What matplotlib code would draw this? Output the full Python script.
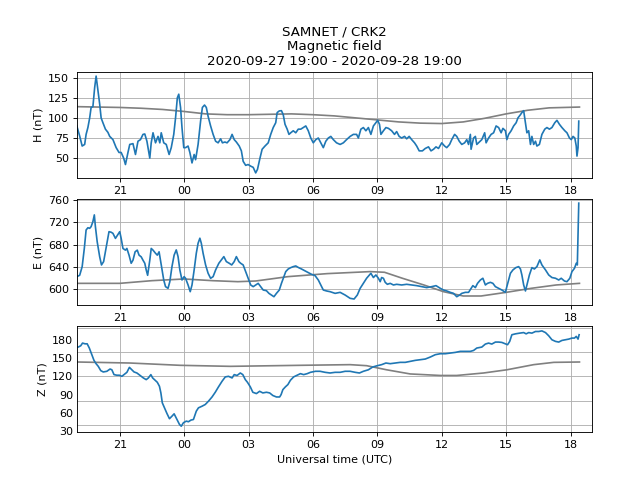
import numpy as np
import pandas as pd
import matplotlib
matplotlib.use("Agg")
import matplotlib.pyplot as plt
import matplotlib.dates as mdates

# ---- data: minutes after 2020-09-27 19:00 UTC, values in nT ----
H_min = [0, 8, 15, 22, 26, 31, 36, 40, 45, 50, 54, 59, 64, 68, 73, 80, 87, 92, 101, 110, 118, 124, 131, 136,
         143, 148, 157, 164, 171, 178, 185, 190, 196, 204, 208, 213, 220, 227, 232, 236, 243, 250, 258, 264,
         271, 276, 281, 285, 290, 294, 299, 304, 311, 316, 322, 328, 332, 339, 346, 351, 357, 362, 367, 374,
         381, 388, 395, 402, 407, 414, 420, 428, 434, 440, 446, 454, 460, 465, 472, 479, 486, 493, 500, 505,
         512, 518, 526, 535, 542, 549, 556, 560, 566, 572, 577, 582, 588, 593, 598, 605, 612, 619, 626, 633,
         640, 647, 654, 661, 668, 675, 682, 689, 696, 703, 710, 717, 726, 736, 745, 754, 764, 773, 782, 787,
         794, 801, 808, 815, 822, 829, 836, 841, 846, 850, 857, 864, 871, 880, 888, 894, 901, 908, 916, 922,
         929, 936, 944, 950, 957, 966, 974, 983, 990, 997, 1004, 1011, 1020, 1028, 1034, 1042, 1048, 1056,
         1062, 1069, 1076, 1084, 1090, 1095, 1100, 1102, 1109, 1114, 1118, 1125, 1132, 1140, 1144, 1151,
         1158, 1165, 1172, 1179, 1186, 1191, 1198, 1202, 1207, 1214, 1221, 1228, 1233, 1240, 1244, 1249,
         1254, 1258, 1263, 1268, 1272, 1277, 1282, 1286, 1293, 1300, 1308, 1314, 1321, 1328, 1336, 1342,
         1349, 1356, 1364, 1370, 1377, 1382, 1387, 1392, 1396, 1398, 1401, 1403]
H_val = [90, 77.5, 65, 67, 79.5, 88, 100, 113, 114, 138, 152, 134, 117, 100, 94, 86, 82, 77, 73, 63, 57, 57, 50, 42,
         57, 67, 68, 54.5, 71, 73, 79.5, 80, 71, 50, 69, 81.5, 69, 77, 69, 81.5, 69, 67, 54.5, 63,
         79.5, 100, 125, 129.5, 113, 88, 63, 63, 65, 57, 44, 54.5, 48, 67, 96, 113, 116, 113, 102, 90,
         79.5, 71, 69, 74, 69, 70, 69, 73, 79.5, 73, 70, 65, 59, 46, 41, 42, 40, 38.5, 31.6, 36,
         50, 61, 65, 69, 79.5, 88, 94, 106.6, 108.7, 109, 104, 92, 86, 79.5, 81.5, 84, 81.5, 86, 86, 88,
         90, 84, 75, 69, 73, 75, 69, 63, 71, 75, 77, 73, 69, 67, 69, 73, 77, 79.5, 79.5, 75,
         86, 88, 84, 88, 79.5, 90, 94, 97, 92, 79.5, 84, 88, 87, 84, 79.5, 83, 77, 75, 77, 74,
         77, 73, 69, 65, 59, 59, 62, 64, 59, 61, 64, 62, 69, 65, 63, 67, 73, 79.5,
         77, 71, 67, 69, 73, 67, 79.5, 61, 75, 77, 67, 70, 73, 81.5, 69, 75,
         79.5, 81.5, 90, 88, 81.5, 87, 84, 73, 79.5, 84, 90, 94, 100, 104, 106.6, 109,
         94, 81.5, 84, 67, 77, 67, 71, 65, 67, 79.5, 86, 88, 86, 88, 94, 97,
         92, 88, 84, 81.5, 75, 73, 77, 75, 65, 52.5, 63, 96]

E_min = [0, 8, 15, 21, 26, 31, 36, 40, 45, 49, 52, 57, 64, 69, 75, 80, 85, 90, 96, 101, 108, 113, 120, 124,
         129, 136, 140, 146, 152, 157, 163, 169, 174, 180, 185, 190, 194, 198, 204, 208, 213, 220, 225, 230,
         236, 243, 248, 255, 260, 266, 272, 278, 283, 288, 294, 300, 304, 311, 317, 322, 328, 334, 339, 344,
         348, 353, 360, 367, 374, 381, 388, 397, 404, 411, 418, 426, 433, 440, 446, 453, 458, 465, 472, 479,
         486, 493, 500, 507, 514, 521, 530, 537, 544, 551, 558, 566, 572, 579, 584, 591, 598, 605, 612, 620,
         628, 638, 647, 656, 666, 675, 682, 689, 698, 708, 722, 736, 750, 764, 775, 784, 792, 801, 810, 818,
         822, 829, 836, 843, 848, 852, 857, 862, 868, 876, 885, 894, 908, 922, 936, 950, 964, 978, 992, 1004,
         1016, 1025, 1034, 1044, 1053, 1062, 1070, 1076, 1086, 1095, 1102, 1107, 1114, 1120, 1128, 1135, 1142,
         1148, 1156, 1163, 1170, 1179, 1188, 1198, 1202, 1207, 1212, 1219, 1227, 1235, 1240, 1244, 1249, 1254,
         1258, 1265, 1272, 1279, 1286, 1294, 1300, 1310, 1319, 1328, 1338, 1347, 1354, 1363, 1370, 1378, 1384,
         1391, 1396, 1399, 1403]
E_val = [622.6, 625, 640.5, 673, 706, 710, 709, 712, 721, 733, 712, 685, 658, 643.5, 649.5, 667, 685, 703, 702, 700,
         691, 696, 703, 691, 673, 670, 673, 661, 646.5, 652, 667, 670, 661, 658, 652, 646.5, 634.6, 625, 652, 673,
         670, 664.4, 661, 667, 643.5, 616.6, 604.7, 601.7, 613.6, 640.5, 661, 670.4, 658.4, 634.6, 616.6, 622.6,
         619.6, 607.7, 595.7, 607.7, 634.6, 664.4, 682.3, 691.3, 682.3, 664.4, 643.5, 628.6, 619.6, 622.6, 634.6,
         646.5, 652.5, 658.4, 649.5, 646.5, 643.5, 649.5, 658.4, 649.5, 646.5, 643.5, 631.6, 619.6, 607.7, 604.7,
         607.7, 610.6, 604.7, 598.7, 597.5, 592.7, 589.7, 586.7, 592.7, 598.7, 610.6, 622.6, 631.6, 636.3, 638.7,
         640.5, 641.7, 638.7, 636.3, 632.8, 629.8, 626.8, 624.4, 616.6, 607.7, 598.7, 597, 595.7, 592.7, 594.5,
         589.7, 583.8, 582.6, 589.7, 601.7, 610.6, 619.7, 625.6, 628.6, 621, 625.6, 619.7, 613.6, 621, 619.7,
         612.4, 608.9, 610.6, 607.7, 608.9, 607.7, 608.9, 607.7, 606.5, 604.7, 603, 604.7, 606.5, 601.7, 598.7,
         597, 594.5, 592.7, 586.7, 589.7, 592.7, 594.5, 594.5, 601.7, 606.5, 603, 610.6, 616.6, 619.7, 607.7,
         610.6, 612.4, 610.6, 604.7, 601.7, 598.7, 594.5, 604.7, 616.6, 628.6, 634.6, 638.7, 640.5, 636.3, 625.6,
         607.7, 597, 607.7, 625.6, 638.7, 636.3, 640.5, 652.5, 643.5, 634.6, 625.6, 621, 619.7, 616.6, 619.7,
         614.8, 613.6, 619.7, 631.6, 637.5, 646.5, 643.5, 754]

Z_min = [0, 4, 11, 16, 23, 29, 35, 42, 48, 54, 60, 67, 74, 84, 93, 98, 104, 112, 119, 126, 132, 140, 147, 154,
         160, 168, 177, 186, 194, 200, 207, 212, 219, 225, 231, 235, 239, 245, 252, 259, 266, 272, 280, 287,
         292, 298, 306, 312, 319, 326, 334, 340, 350, 359, 368, 378, 387, 396, 406, 415, 424, 434, 440, 448,
         457, 464, 471, 477, 485, 492, 502, 511, 520, 530, 539, 548, 558, 567, 571, 576, 583, 590, 597, 606,
         616, 625, 634, 644, 653, 667, 680, 694, 708, 722, 736, 750, 764, 778, 790, 801, 815, 827, 840, 852,
         864, 876, 890, 904, 918, 932, 946, 960, 974, 988, 1002, 1016, 1030, 1044, 1058, 1072, 1086, 1100,
         1109, 1118, 1132, 1142, 1151, 1160, 1170, 1179, 1188, 1198, 1204, 1210, 1216, 1226, 1238, 1249,
         1256, 1263, 1272, 1282, 1291, 1300, 1310, 1319, 1328, 1338, 1347, 1356, 1366, 1375, 1384, 1391,
         1396, 1401, 1404]
Z_val = [168.6, 168.6, 170.8, 175.2, 174, 174, 167, 156, 146.6, 141, 136.7, 129.6, 127.4, 128.5, 132.3, 131,
         123, 122, 122, 120.2, 123, 126.8, 135, 131, 127.4, 125.7, 121.6, 117.5, 114.7, 117.5, 123, 117.5,
         113.6, 110.3, 103.7, 92.7, 76.3, 68, 58.6, 50, 54.2, 58.1, 48.7, 40.5, 37.6, 43.3, 46, 45, 47.7,
         48.7, 62.5, 68, 70.7, 73.5, 79, 86, 93.8, 102.7, 112, 119.2, 120.2, 117.5, 123, 121.6, 125.7, 123,
         114.7, 110.3, 102.7, 93.8, 91.6, 95.4, 92.7, 93.8, 92.7, 88.4, 86, 86, 89.9, 98.2, 102.7, 106.5,
         113.6, 119.2, 122, 124.6, 123, 124.6, 126.8, 128.5, 128.5, 126.8, 125.7, 126.8, 126.8, 128.5, 128.5,
         126.8, 125.7, 128.5, 131, 135.6, 137.8, 139.5, 142.2, 141.1, 142.2, 143.3, 143.3, 145, 146.6, 147.7,
         148.8, 152.1, 156, 157.6, 157.6, 158.7, 159.8, 161.5, 161.5, 161.5, 163, 167, 168.6, 173.6, 175.2,
         173.6, 176.9, 176.9, 176.3, 174, 172.5, 178, 189, 190.5, 191.7, 192.6, 190.5, 192.6, 191.7, 194.4,
         194.4, 195.4, 192.6, 187.3, 180.7, 178, 176.9, 179.6, 180.7, 181.8, 183.5, 183.5, 186.3, 181.8, 189]

# quiet-day baselines (grey curves)
H_base_min = [0, 60, 120, 180, 240, 300, 360, 420, 480, 540, 600, 660, 720, 780, 840, 900, 960, 1020, 1080,
              1140, 1200, 1260, 1320, 1405]
H_base = [114, 113.5, 113, 112, 110.5, 108, 105, 104, 104, 104.5, 105, 104, 102.5, 100, 97.5, 95, 93.5, 93, 95,
          99.5, 105, 109.5, 112.5, 113.5]
E_base_min = [0, 120, 210, 300, 380, 450, 500, 590, 700, 820, 860, 910, 970, 1025, 1080, 1130, 1200, 1270, 1340, 1405]
E_base = [610.6, 610.6, 615.4, 618.4, 615.4, 613.6, 614.8, 622.6, 628, 631.6, 630.4, 619.7, 607.7, 595.7, 588, 588,
          594.5, 601.7, 607.7, 610.6]
Z_base_min = [0, 149, 289, 429, 624, 764, 810, 866, 932, 1016, 1062, 1137, 1202, 1277, 1333, 1405]
Z_base = [143.9, 142.2, 138.4, 136.7, 138.4, 139.5, 137.8, 131, 124.1, 121.6, 121.6, 125.7, 131, 139.5, 143.3, 143.9]

Z_grid = [40, 80, 120, 160, 200]
Z_ticks = [30, 60, 90, 120, 150, 180]

start = pd.Timestamp("2020-09-27 19:00")
end = pd.Timestamp("2020-09-28 19:00")


def tt(mins):
    return (start + pd.to_timedelta(np.asarray(mins, dtype=float), unit="m")).to_pydatetime()


fig, axes = plt.subplots(3, 1, figsize=(8, 6), dpi=80)
fig.subplots_adjust(left=0.12, right=0.925, top=0.85, bottom=0.1, hspace=0.2)

panels = [
    (H_min, H_val, H_base_min, H_base, "H (nT)", (25.4, 157.1)),
    (E_min, E_val, E_base_min, E_base, "E (nT)", (572, 761.3)),
    (Z_min, Z_val, Z_base_min, Z_base, "Z (nT)", (28, 203.3)),
]
for ax, (tm, v, bm, b, lab, yl) in zip(axes, panels):
    ax.plot(tt(bm), b, color="grey", lw=1.5)
    ax.plot(tt(tm), v, color="#1f77b4", lw=1.5)
    ax.set_xlim(start.to_pydatetime(), end.to_pydatetime())
    ax.set_ylim(*yl)
    ax.set_ylabel(lab)
    ax.xaxis.set_major_locator(mdates.HourLocator(byhour=range(0, 24, 3)))
    ax.xaxis.set_major_formatter(mdates.DateFormatter("%H"))
    ax.grid(True)

axes[0].set_yticks([50, 75, 100, 125, 150])
axes[1].set_yticks([600, 640, 680, 720, 760])
zax = axes[2]
zax.yaxis.remove_overlapping_locs = False
zax.set_yticks(Z_grid)
zax.set_yticklabels([])
zax.set_yticks(Z_ticks, minor=True)
zax.set_yticklabels([str(v) for v in Z_ticks], minor=True)
zax.tick_params(axis="y", which="both", length=0)
zax.set_xlabel("Universal time (UTC)")

axes[0].set_title("SAMNET / CRK2\nMagnetic field\n2020-09-27 19:00 - 2020-09-28 19:00")

fig.savefig("out.png", dpi=80)
